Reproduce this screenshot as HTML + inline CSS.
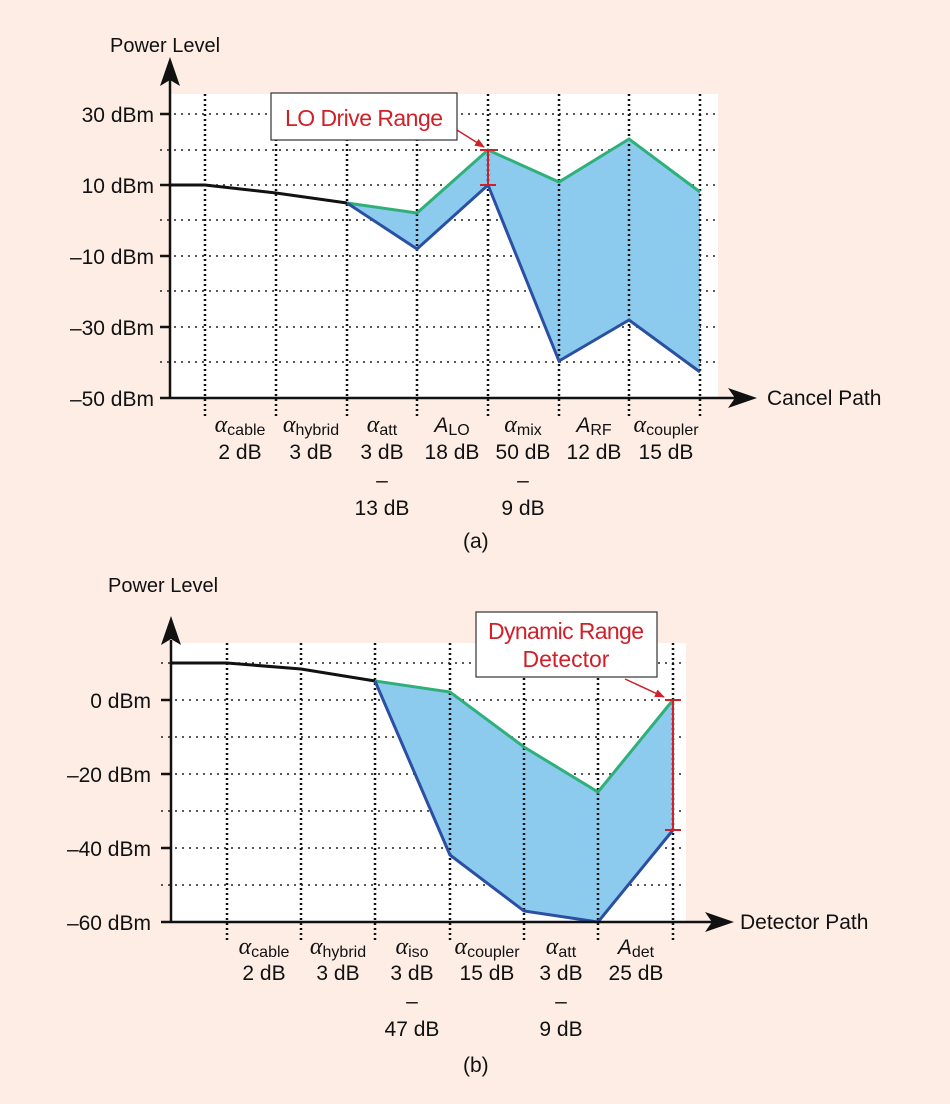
<!DOCTYPE html>
<html><head><style>
html,body{margin:0;padding:0;background:#fdede5;}
svg{display:block;font-family:"Liberation Sans",Arial,sans-serif;}
</style></head><body>
<svg width="950" height="1104" viewBox="0 0 950 1104" xmlns="http://www.w3.org/2000/svg">
<rect width="950" height="1104" fill="#fdede5"/>
<defs>
<marker id="ra" markerWidth="10" markerHeight="10" refX="9" refY="5" orient="auto" markerUnits="userSpaceOnUse"><path d="M0,1 L10,5 L0,9 Z" fill="#d0202a"/></marker>
</defs>

<!-- ===== Chart (a) ===== -->
<rect x="170" y="94" width="548" height="304" fill="#fff"/>
<g stroke="#222" stroke-width="1.5" stroke-dasharray="2,5">
<line x1="160" y1="114" x2="718" y2="114"/><line x1="160" y1="150" x2="718" y2="150"/>
<line x1="160" y1="185" x2="718" y2="185"/><line x1="160" y1="220" x2="718" y2="220"/>
<line x1="160" y1="256" x2="718" y2="256"/><line x1="160" y1="291" x2="718" y2="291"/>
<line x1="160" y1="327" x2="718" y2="327"/><line x1="160" y1="362" x2="718" y2="362"/>
</g>
<polygon points="347,203 417,213 488,150 559,182 629,139 700,192 700,372 629,320 559,361 488,185 417,249" fill="#8ccbee"/>
<g stroke="#111" stroke-width="2.5" stroke-dasharray="2,3">
<line x1="205" y1="94" x2="205" y2="416"/><line x1="276" y1="94" x2="276" y2="416"/>
<line x1="347" y1="94" x2="347" y2="416"/><line x1="417" y1="94" x2="417" y2="416"/>
<line x1="488" y1="94" x2="488" y2="416"/><line x1="559" y1="94" x2="559" y2="416"/>
<line x1="629" y1="94" x2="629" y2="416"/><line x1="700" y1="94" x2="700" y2="416"/>
</g>
<polyline points="170,185 205,185 276,193 347,203" fill="none" stroke="#111" stroke-width="3"/>
<polyline points="347,203 417,213 488,150 559,182 629,139 700,192" fill="none" stroke="#2fb07a" stroke-width="3"/>
<polyline points="347,203 417,249 488,185 559,361 629,320 700,372" fill="none" stroke="#2a4fa3" stroke-width="3"/>
<g stroke="#d0202a" stroke-width="2"><line x1="488" y1="150" x2="488" y2="185"/><line x1="480" y1="150" x2="496" y2="150"/><line x1="480" y1="185" x2="496" y2="185"/></g>
<line x1="457" y1="130" x2="484" y2="147" stroke="#d0202a" stroke-width="1.5" marker-end="url(#ra)"/>
<rect x="271" y="93" width="186" height="47" fill="#fff" stroke="#333" stroke-width="1.2"/>
<text x="364" y="126" font-size="23" fill="#d0202a" text-anchor="middle" textLength="158">LO Drive Range</text>
<line x1="170" y1="398" x2="170" y2="80" stroke="#111" stroke-width="2.5"/>
<path d="M170,57 L160,86 L170,80 L180,86 Z" fill="#111"/>
<line x1="160" y1="398" x2="735" y2="398" stroke="#111" stroke-width="2.5"/>
<path d="M757,398 L728,388 L735,398 L728,408 Z" fill="#111"/>
<g stroke="#111" stroke-width="2.5"><line x1="160" y1="114" x2="170" y2="114"/><line x1="160" y1="185" x2="170" y2="185"/><line x1="160" y1="256" x2="170" y2="256"/><line x1="160" y1="327" x2="170" y2="327"/></g>
<g font-size="21" fill="#111" text-anchor="end">
<text x="154" y="122">30 dBm</text><text x="154" y="193">10 dBm</text><text x="154" y="264">–10 dBm</text><text x="154" y="335">–30 dBm</text><text x="154" y="406">–50 dBm</text>
</g>
<text x="110" y="52" font-size="20" fill="#111">Power Level</text>
<text x="767" y="405" font-size="21" fill="#111">Cancel Path</text>
<g font-size="21" fill="#111" text-anchor="middle">
<text x="240" y="432"><tspan font-family="Liberation Serif" font-style="italic" font-size="24">α</tspan><tspan font-size="16" dy="3">cable</tspan></text>
<text x="240" y="459">2 dB</text>
<text x="311" y="432"><tspan font-family="Liberation Serif" font-style="italic" font-size="24">α</tspan><tspan font-size="16" dy="3">hybrid</tspan></text>
<text x="311" y="459">3 dB</text>
<text x="382" y="432"><tspan font-family="Liberation Serif" font-style="italic" font-size="24">α</tspan><tspan font-size="16" dy="3">att</tspan></text>
<text x="382" y="459">3 dB</text><text x="382" y="487">–</text><text x="382" y="515">13 dB</text>
<text x="452" y="432"><tspan font-style="italic" font-size="21">A</tspan><tspan font-size="16" dy="3">LO</tspan></text>
<text x="452" y="459">18 dB</text>
<text x="523" y="432"><tspan font-family="Liberation Serif" font-style="italic" font-size="24">α</tspan><tspan font-size="16" dy="3">mix</tspan></text>
<text x="523" y="459">50 dB</text><text x="523" y="487">–</text><text x="523" y="515">9 dB</text>
<text x="594" y="432"><tspan font-style="italic" font-size="21">A</tspan><tspan font-size="16" dy="3">RF</tspan></text>
<text x="594" y="459">12 dB</text>
<text x="666" y="432"><tspan font-family="Liberation Serif" font-style="italic" font-size="24">α</tspan><tspan font-size="16" dy="3">coupler</tspan></text>
<text x="666" y="459">15 dB</text>
<text x="463" y="548" text-anchor="start">(a)</text>
</g>

<!-- ===== Chart (b) ===== -->
<rect x="171" y="643" width="515" height="279" fill="#fff"/>
<g stroke="#222" stroke-width="1.5" stroke-dasharray="2,5">
<line x1="161" y1="663" x2="686" y2="663"/><line x1="161" y1="700" x2="686" y2="700"/>
<line x1="161" y1="737" x2="686" y2="737"/><line x1="161" y1="774" x2="686" y2="774"/>
<line x1="161" y1="811" x2="686" y2="811"/><line x1="161" y1="848" x2="686" y2="848"/>
<line x1="161" y1="885" x2="686" y2="885"/>
</g>
<polygon points="375,681 450,692 524,747 598,792 673,700 673,830 598,922 524,911 450,855" fill="#8ccbee"/>
<g stroke="#111" stroke-width="2.5" stroke-dasharray="2,3">
<line x1="227" y1="643" x2="227" y2="940"/><line x1="301" y1="643" x2="301" y2="940"/>
<line x1="375" y1="643" x2="375" y2="940"/><line x1="450" y1="643" x2="450" y2="940"/>
<line x1="524" y1="643" x2="524" y2="940"/><line x1="598" y1="643" x2="598" y2="940"/>
<line x1="673" y1="643" x2="673" y2="940"/>
</g>
<polyline points="171,663 227,663 301,669 375,681" fill="none" stroke="#111" stroke-width="3"/>
<polyline points="375,681 450,692 524,747 598,792 673,700" fill="none" stroke="#2fb07a" stroke-width="3"/>
<polyline points="375,681 450,855 524,911 598,922 673,830" fill="none" stroke="#2a4fa3" stroke-width="3"/>
<g stroke="#d0202a" stroke-width="2"><line x1="673" y1="700" x2="673" y2="830"/><line x1="665" y1="700" x2="681" y2="700"/><line x1="665" y1="830" x2="681" y2="830"/></g>
<line x1="625" y1="679" x2="664" y2="697" stroke="#d0202a" stroke-width="1.5" marker-end="url(#ra)"/>
<rect x="476" y="612" width="181" height="65" fill="#fff" stroke="#333" stroke-width="1.2"/>
<text x="566" y="639" font-size="23" fill="#d0202a" text-anchor="middle" textLength="156">Dynamic Range</text>
<text x="566" y="667" font-size="23" fill="#d0202a" text-anchor="middle">Detector</text>
<line x1="171" y1="922" x2="171" y2="640" stroke="#111" stroke-width="2.5"/>
<path d="M171,616 L161,645 L171,639 L181,645 Z" fill="#111"/>
<line x1="161" y1="922" x2="712" y2="922" stroke="#111" stroke-width="2.5"/>
<path d="M734,922 L705,912 L712,922 L705,932 Z" fill="#111"/>
<g stroke="#111" stroke-width="2.5"><line x1="161" y1="700" x2="171" y2="700"/><line x1="161" y1="774" x2="171" y2="774"/><line x1="161" y1="848" x2="171" y2="848"/></g>
<g font-size="21" fill="#111" text-anchor="end">
<text x="151" y="708">0 dBm</text><text x="151" y="782">–20 dBm</text><text x="151" y="856">–40 dBm</text><text x="151" y="930">–60 dBm</text>
</g>
<text x="108" y="592" font-size="20" fill="#111">Power Level</text>
<text x="740" y="929" font-size="21" fill="#111">Detector Path</text>
<g font-size="21" fill="#111" text-anchor="middle">
<text x="264" y="954"><tspan font-family="Liberation Serif" font-style="italic" font-size="24">α</tspan><tspan font-size="16" dy="3">cable</tspan></text>
<text x="264" y="980">2 dB</text>
<text x="338" y="954"><tspan font-family="Liberation Serif" font-style="italic" font-size="24">α</tspan><tspan font-size="16" dy="3">hybrid</tspan></text>
<text x="338" y="980">3 dB</text>
<text x="412" y="954"><tspan font-family="Liberation Serif" font-style="italic" font-size="24">α</tspan><tspan font-size="16" dy="3">iso</tspan></text>
<text x="412" y="980">3 dB</text><text x="412" y="1008">–</text><text x="412" y="1036">47 dB</text>
<text x="487" y="954"><tspan font-family="Liberation Serif" font-style="italic" font-size="24">α</tspan><tspan font-size="16" dy="3">coupler</tspan></text>
<text x="487" y="980">15 dB</text>
<text x="561" y="954"><tspan font-family="Liberation Serif" font-style="italic" font-size="24">α</tspan><tspan font-size="16" dy="3">att</tspan></text>
<text x="561" y="980">3 dB</text><text x="561" y="1008">–</text><text x="561" y="1036">9 dB</text>
<text x="636" y="954"><tspan font-style="italic" font-size="21">A</tspan><tspan font-size="16" dy="3">det</tspan></text>
<text x="636" y="980">25 dB</text>
<text x="463" y="1072" text-anchor="start">(b)</text>
</g>
</svg>
</body></html>
